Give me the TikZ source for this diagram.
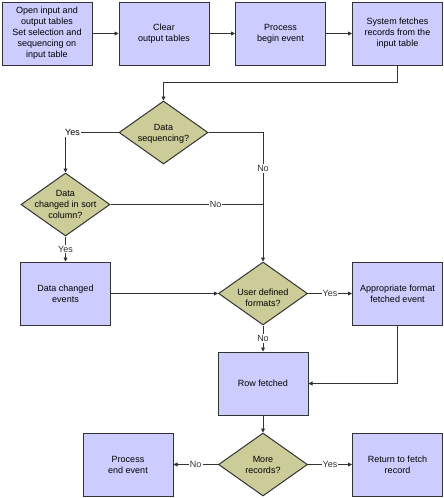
\documentclass[tikz,border=0pt]{standalone}
\usepackage{fontspec}
\setmainfont{Liberation Sans}
\usetikzlibrary{shapes.geometric,arrows.meta}
\definecolor{boxblue}{RGB}{204,204,255}
\definecolor{decolive}{RGB}{204,204,153}
\definecolor{edgegray}{RGB}{51,51,51}
% text of a decision, kept from growing the diamond
\newcommand{\dtext}[2][4pt]{\smash{\raisebox{-#1}{\makebox[0pt]{\begin{tabular}{@{}c@{}}#2\end{tabular}}}}}

\begin{document}
\begin{tikzpicture}[x=1pt, y=-1pt,
  font=\fontsize{9}{11}\selectfont,
  stepbox/.style={draw=edgegray, fill=boxblue, line width=1pt, minimum width=90pt, minimum height=63pt, inner sep=0pt, align=center},
  decision/.style={diamond, draw=edgegray, fill=decolive, line width=1pt, minimum width=89pt, minimum height=63pt, inner sep=0pt},
  flow/.style={edgegray, line width=0.8pt, -{Triangle[length=4pt,width=4pt]}},
  lbl/.style={fill=white, inner sep=1pt}]
  \useasboundingbox (0,0) rectangle (444,498);

  % Top row of steps
  \node[stepbox] (open) at (47,33.5) {Open input and\\output tables\\Set selection and\\sequencing on\\input table};
  \node[stepbox] (clear) at (164,33.5) {Clear\\output tables};
  \node[stepbox] (begin) at (280.5,33.5) {Process\\begin event};
  \node[stepbox] (fetch) at (397.5,33.5) {System fetches\\records from the\\input table};
  \foreach \a/\b in {open/clear, clear/begin, begin/fetch} {
    \draw[flow] (\a) -- (\b); % Step to step
  }

  % Sequencing checks
  \node[decision] (seq) at (163.5,132.5) {\dtext{Data\\sequencing?}};
  \node[decision] (sortcol) at (65.5,204.5) {\dtext[3.5pt]{Data\\changed in sort\\column?}};
  \draw[flow] (fetch.south) -- ++(0,17) -| (seq.north);

  \coordinate (yescorner) at (sortcol.north |- seq.west);
  \draw[flow] (seq.west) -- (yescorner) -- (sortcol.north);
  \node[lbl] (seqyes) at ([xshift=7pt]yescorner) {Yes};

  % Middle row
  \node[stepbox] (changed) at (65.5,293.5) {Data changed\\events};
  \node[decision] (userfmt) at (263,293.5) {\dtext[8pt]{User defined\\formats?}};
  \node[stepbox] (fmtevent) at (397.5,293.5) {Appropriate format\\fetched event};

  \draw[flow] (seq.east) -| (userfmt.north) node[lbl, pos=0.64] (seqno) {No};
  \coordinate (nojoin) at (userfmt.north |- sortcol.east);
  \draw[edgegray, line width=0.8pt] (sortcol.east) -- (nojoin) node[lbl, pos=0.69] (sortno) {No}; % Joins the line above
  \draw[flow] (sortcol.south) -- (changed.north) node[lbl, midway] (sortyes) {Yes};
  \draw[flow] (changed.east) -- (userfmt.west);
  \draw[flow] (userfmt.east) -- (fmtevent.west) node[lbl, midway] (fmtyes) {Yes};

  % Fetched row and the end
  \node[stepbox] (row) at (263,383.5) {Row fetched};
  \node[decision] (more) at (263,464.5) {\dtext{More\\records?}};
  \node[stepbox] (endev) at (128,464.5) {Process\\end event};
  \node[stepbox] (retfetch) at (397.5,464.5) {Return to fetch\\record};

  \draw[flow] (userfmt.south) -- (row.north) node[lbl, midway] (fmtno) {No};
  \draw[flow] (fmtevent.south) |- (row.east);
  \draw[flow] (row.south) -- (more.north);
  \draw[flow] (more.west) -- (endev.east) node[lbl, midway] (moreno) {No};
  \draw[flow] (more.east) -- (retfetch.west) node[lbl, midway] (moreyes) {Yes};
\end{tikzpicture}
\end{document}
